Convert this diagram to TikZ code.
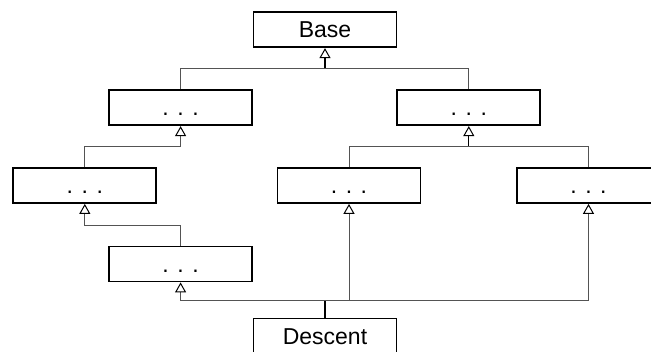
\documentclass[tikz,border=0pt]{standalone}
\usepackage{fontspec}
\setmainfont{Liberation Sans}
\usetikzlibrary{positioning,arrows.meta}

\begin{document}
\begin{tikzpicture}[x=1pt, y=-1pt, >={Triangle[open, length=10pt, width=11pt, black, line width=1pt]},
    class/.style={draw, line width=1.8pt, minimum width=143pt, minimum height=35pt, inner sep=0pt, text height=16.5pt, text depth=0pt, font=\fontsize{23}{26}\selectfont},
    link/.style={draw=gray!65!black, line width=1pt},
    stub/.style={draw=black, line width=1.3pt}]
    \useasboundingbox (0,0) rectangle (651,351);

    \node[class] (base) at (325,29.7) {Base};
    \node[class] (left1) at (180.6,107.7) {. . .};
    \node[class] (right1) at (468.8,107.7) {. . .};
    \node[class] (left2) at (84.8,185.5) {. . .};
    \node[class] (mid2) at (349,185.5) {. . .};
    \node[class] (right2) at (588.5,185.5) {. . .};
    \node[class] (left3) at (180.6,264) {. . .};
    \node[class] (desc) at (325,336) {Descent};

    \coordinate (jbase) at (325,68.3);
    \coordinate (jleft) at (180.6,146.7);
    \coordinate (jright) at (468.8,146.7);
    \coordinate (jleft2) at (84.8,225);
    \coordinate (jdesc) at (325,300);

    \draw[stub,->] (jbase) -- (base);
    \draw[link] (left1) |- (jbase);
    \draw[link] (right1) |- (jbase);

    \draw[link,->] (left2) |- (jleft) -- (left1);

    \draw[stub,->] (jright) -- (right1);
    \draw[link] (mid2) |- (jright);
    \draw[link] (right2) |- (jright);

    \draw[link,->] (left3) |- (jleft2) -- (left2);

    \draw[stub] (desc) -- (jdesc);
    \draw[link,->] (jdesc) -| (left3);
    \draw[link,->] (jdesc) -| (mid2);
    \draw[link,->] (jdesc) -| (right2);
\end{tikzpicture}
\end{document}
